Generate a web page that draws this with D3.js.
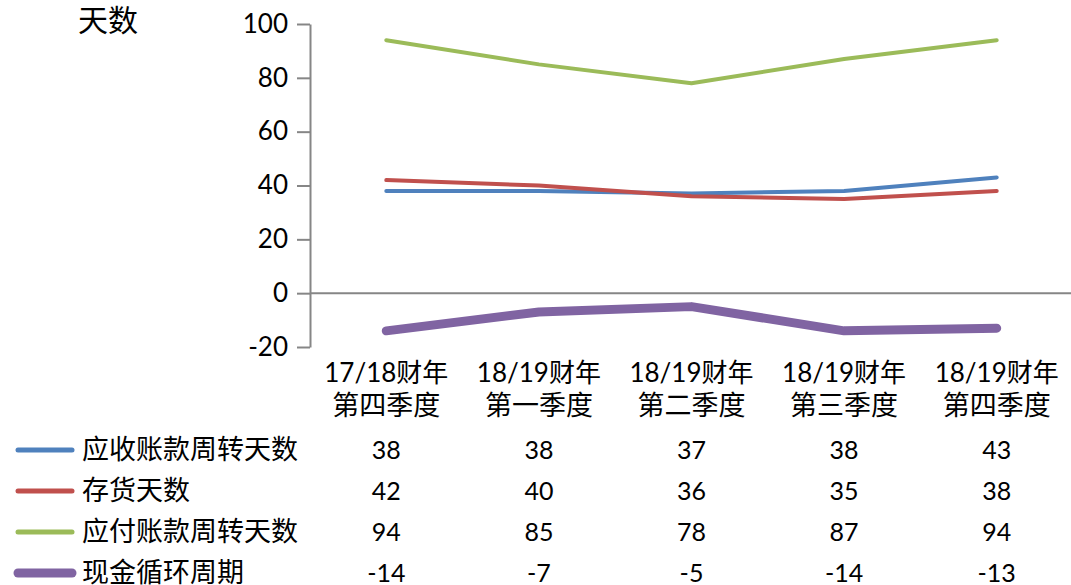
<!DOCTYPE html>
<html>
<head>
<meta charset="utf-8">
<script src="https://unpkg.com/d3@7/dist/d3.min.js"></script>
<style>
  body { margin: 0; background: #fff; }
  text { font-family: Lato, "Noto Sans CJK SC", sans-serif; fill: #000; }
</style>
</head>
<body>
<script>
// data
const categories = ["Q4_1718", "Q1_1819", "Q2_1819", "Q3_1819", "Q4_1819"];
const catLine1 = ["17/18财年", "18/19财年", "18/19财年", "18/19财年", "18/19财年"];
const catLine2 = ["第四季度", "第一季度", "第二季度", "第三季度", "第四季度"];
const seriesNames = ["应收账款周转天数", "存货天数", "应付账款周转天数", "现金循环周期"];
const receivableDays = [38, 38, 37, 38, 43];
const inventoryDays = [42, 40, 36, 35, 38];
const payableDays = [94, 85, 78, 87, 94];
const cashCycle = [-14, -7, -5, -14, -13];
const yTicks = [-20, 0, 20, 40, 60, 80, 100];

const seriesValues = [receivableDays, inventoryDays, payableDays, cashCycle];
const seriesColors = ["#4F81BD", "#C0504D", "#9BBB59", "#8064A2"];
const seriesWidths = [4, 4, 4, 9];

// layout
const width = 1071;
const height = 585;

const svg = d3.select("body").append("svg")
  .attr("width", width).attr("height", height);

const x = d3.scaleBand().domain(categories).range([310, 1073]);
const cx = (d) => x(d) + x.bandwidth() / 2;
const y = d3.scaleLinear().domain([-20, 100]).range([347, 24]);

// y axis
const yAxis = svg.append("g")
  .attr("transform", "translate(310,0)")
  .call(d3.axisLeft(y).tickValues(yTicks).tickFormat((d) => String(d))
    .tickSize(13).tickPadding(9).tickSizeOuter(0));
yAxis.select(".domain").attr("stroke", "#868686").attr("stroke-width", 2);
yAxis.selectAll(".tick line").attr("stroke", "#868686").attr("stroke-width", 2);
yAxis.selectAll(".tick text").style("font-size", "26px").attr("fill", "#000");

// zero line
svg.append("line")
  .attr("x1", 310).attr("x2", width)
  .attr("y1", y(0)).attr("y2", y(0))
  .attr("stroke", "#868686").attr("stroke-width", 2);

svg.append("text")
  .attr("x", 108).attr("y", 31)
  .attr("text-anchor", "middle")
  .style("font-size", "30px")
  .text("天数");

// category labels
const catG = svg.append("g").selectAll("text")
  .data(categories).enter().append("text")
  .attr("text-anchor", "middle")
  .style("font-size", "26px");
catG.append("tspan").attr("x", cx).attr("y", 382).text((d, i) => catLine1[i]);
catG.append("tspan").attr("x", cx).attr("y", 415)
  .style("font-size", "27px").text((d, i) => catLine2[i]);

// lines
const line = d3.line()
  .x((d, i) => cx(categories[i]))
  .y((d) => y(d));

svg.append("g").selectAll("path")
  .data(seriesValues).enter().append("path")
  .attr("d", line)
  .attr("fill", "none")
  .attr("stroke", (d, i) => seriesColors[i])
  .attr("stroke-width", (d, i) => seriesWidths[i])
  .attr("stroke-linecap", "round")
  .attr("stroke-linejoin", "round");

// data table
const rowY = d3.scalePoint().domain(seriesNames).range([450, 573]);

const rows = svg.append("g").selectAll("g")
  .data(seriesNames).enter().append("g")
  .attr("transform", (d) => `translate(0,${rowY(d)})`);

rows.append("line")
  .attr("x1", 18).attr("x2", 72)
  .attr("stroke", (d, i) => seriesColors[i])
  .attr("stroke-width", (d, i) => (i === 3 ? 9 : 5))
  .attr("stroke-linecap", "round");

rows.append("text")
  .attr("x", 82).attr("dy", "0.35em")
  .style("font-size", "27px")
  .text((d) => d);

rows.selectAll("text.val")
  .data((d, i) => seriesValues[i]).enter().append("text")
  .attr("class", "val")
  .attr("x", (d, j) => cx(categories[j]))
  .attr("dy", "0.35em")
  .attr("text-anchor", "middle")
  .style("font-size", "25px")
  .text((d) => d);
</script>
</body>
</html>
